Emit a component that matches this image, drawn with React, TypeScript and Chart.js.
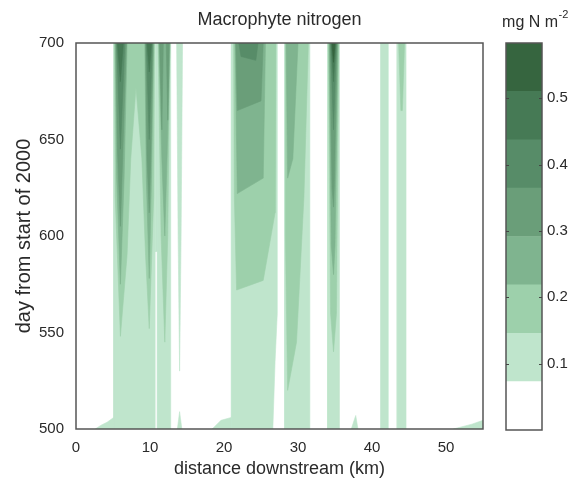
import React, { useEffect, useRef } from 'react';
import { Chart, registerables } from 'chart.js';

Chart.register(...registerables);

type Pt = [number, number];

const FONT = '"Liberation Sans", Arial, Helvetica, sans-serif';
const TEXT = '#2a2a2a';

// axes
const xTicks = [0, 10, 20, 30, 40, 50];
const yTicks = [500, 550, 600, 650, 700];
const xRange = [0, 55];
const yRange = [500, 700];

// contour levels (mg N m^-2) and fill colours (white = below first level)
const levels = [0, 0.0729, 0.1458, 0.2187, 0.2916, 0.3645, 0.4374, 0.5103, 0.5832];
const bandColors = ['#ffffff', '#bfe5cc', '#9dd0ab', '#7fb48f', '#6a9e79', '#578c68', '#467a55', '#36653f'];
const cbTicks = [0.1, 0.2, 0.3, 0.4, 0.5];

// contour regions, [distance km, day], one array per level band
const band1: Pt[][] = [
  [[2.6, 500], [5.1, 500], [5.1, 506], [4.2, 503.5], [3.4, 502]],
  [[5.1, 500], [10.7, 500], [10.7, 700], [5.1, 700]],
  [[10.7, 592], [11.0, 592], [11.0, 700], [10.7, 700]],
  [[11.0, 500], [12.8, 500], [12.8, 700], [11.0, 700]],
  [[13.6, 700], [14.4, 700], [14.2, 600], [14.0, 530], [13.8, 600]],
  [[13.7, 500], [14.3, 500], [14.0, 509]],
  [[18.4, 500], [21.0, 500], [21.0, 506], [19.6, 504.5]],
  [[21.0, 500], [26.6, 500], [26.9, 535], [27.2, 560], [27.2, 700], [21.0, 700]],
  [[28.2, 500], [31.6, 500], [31.6, 700], [28.2, 700]],
  [[34.0, 500], [35.6, 500], [35.6, 700], [34.0, 700]],
  [[37.2, 500], [38.1, 500], [37.8, 507]],
  [[41.2, 500], [42.2, 500], [42.2, 700], [41.2, 700]],
  [[43.4, 500], [44.6, 500], [44.6, 700], [43.4, 700]],
  [[51.0, 500], [55.0, 500], [55.0, 504.5], [53.5, 502.5]],
];
const band2: Pt[][] = [
  [[5.2, 700], [10.6, 700], [10.5, 620], [9.9, 552], [9.4, 590], [8.9, 640], [8.1, 677], [7.4, 640], [6.9, 590], [6.0, 548], [5.3, 620]],
  [[11.1, 700], [12.7, 700], [12.4, 600], [12.0, 545], [11.5, 600]],
  [[21.3, 700], [27.0, 700], [26.9, 612], [25.3, 577], [21.7, 572], [21.4, 620]],
  [[28.3, 700], [31.4, 700], [30.8, 620], [29.8, 545], [28.6, 520], [28.3, 600]],
  [[34.1, 700], [35.5, 700], [35.2, 560], [34.8, 540], [34.4, 560]],
  [[43.6, 700], [44.4, 700], [44.1, 665], [43.9, 665]],
];
const band3: Pt[][] = [
  [[5.3, 700], [6.9, 700], [6.5, 630], [6.0, 575], [5.5, 630]],
  [[9.3, 700], [10.5, 700], [10.2, 630], [9.9, 578], [9.5, 630]],
  [[11.2, 700], [12.7, 700], [12.3, 640], [12.0, 600], [11.6, 640]],
  [[21.5, 700], [25.6, 700], [25.3, 630], [21.8, 622]],
  [[28.4, 700], [30.0, 700], [29.3, 640], [28.6, 630]],
  [[34.2, 700], [35.4, 700], [35.0, 595], [34.8, 580], [34.5, 595]],
];
const band4: Pt[][] = [
  [[5.4, 700], [6.8, 700], [6.3, 640], [6.0, 605], [5.6, 645]],
  [[9.4, 700], [10.4, 700], [10.1, 640], [9.9, 612], [9.6, 640]],
  [[11.3, 700], [11.8, 700], [11.6, 655]],
  [[12.2, 700], [12.6, 700], [12.4, 660]],
  [[21.6, 700], [25.3, 700], [25.0, 670], [21.8, 665]],
  [[34.3, 700], [35.3, 700], [34.9, 625], [34.8, 615], [34.6, 625]],
];
const band5: Pt[][] = [
  [[5.5, 700], [6.6, 700], [6.0, 645]],
  [[9.5, 700], [10.3, 700], [9.9, 650]],
  [[22.0, 700], [24.6, 700], [24.3, 691], [22.3, 693]],
  [[34.4, 700], [35.2, 700], [34.8, 655]],
];
const band6: Pt[][] = [
  [[5.6, 700], [6.4, 700], [6.0, 680]],
  [[9.6, 700], [10.2, 700], [9.9, 685]],
  [[34.5, 700], [35.1, 700], [34.8, 680]],
];
const band7: Pt[][] = [
  [[34.6, 700], [35.0, 700], [34.8, 690]],
];

const bands = [band1, band2, band3, band4, band5, band6, band7];

const boxPlugin = {
  id: 'boxFrame',
  afterDraw(chart: any) {
    const { ctx, chartArea: a } = chart;
    ctx.save();
    ctx.strokeStyle = '#555';
    ctx.lineWidth = 1.5;
    ctx.strokeRect(a.left, a.top, a.right - a.left, a.bottom - a.top);
    ctx.restore();
  },
};

const mainTitlePlugin = {
  id: 'mainTitle',
  afterDraw(chart: any) {
    const { ctx, chartArea: a } = chart;
    ctx.save();
    ctx.fillStyle = TEXT;
    ctx.font = `18px ${FONT}`;
    ctx.textAlign = 'center';
    ctx.textBaseline = 'alphabetic';
    ctx.fillText('Macrophyte nitrogen', (a.left + a.right) / 2, 25);
    ctx.restore();
  },
};

const cbPlugin = {
  id: 'cbExtras',
  afterDraw(chart: any) {
    const { ctx, chartArea: a } = chart;
    const y = chart.scales.y;
    ctx.save();
    ctx.strokeStyle = '#555';
    ctx.lineWidth = 1.5;
    ctx.strokeRect(a.left, a.top, a.right - a.left, a.bottom - a.top);
    ctx.lineWidth = 1;
    ctx.strokeStyle = '#444';
    cbTicks.forEach((v) => {
      const py = Math.round(y.getPixelForValue(v)) + 0.5;
      ctx.beginPath();
      ctx.moveTo(a.left, py);
      ctx.lineTo(a.left + 3, py);
      ctx.moveTo(a.right, py);
      ctx.lineTo(a.right - 3, py);
      ctx.stroke();
    });
    // unit label
    ctx.fillStyle = TEXT;
    ctx.textBaseline = 'alphabetic';
    ctx.textAlign = 'left';
    ctx.font = `16px ${FONT}`;
    const main = 'mg N m';
    const wMain = ctx.measureText(main).width;
    ctx.font = `11px ${FONT}`;
    const sup = '-2';
    const wSup = ctx.measureText(sup).width;
    const cx = 55;
    const x0 = cx - (wMain + wSup) / 2;
    ctx.font = `16px ${FONT}`;
    ctx.fillText(main, x0, 27);
    ctx.font = `11px ${FONT}`;
    ctx.fillText(sup, x0 + wMain + 0.5, 18);
    ctx.restore();
  },
};

export default function App() {
  const mainRef = useRef<HTMLCanvasElement>(null);
  const cbRef = useRef<HTMLCanvasElement>(null);

  useEffect(() => {
    const datasets: any[] = [];
    bands.forEach((group, i) => {
      const b = i + 1;
      group.forEach((p) => {
        const closed = [...p, p[0]];
        datasets.push({
          data: closed.map(([x, y]) => ({ x, y })),
          showLine: true,
          fill: 'shape',
          backgroundColor: bandColors[b],
          borderColor: bandColors[b],
          borderWidth: 0.6,
          pointRadius: 0,
          pointHoverRadius: 0,
          tension: 0,
          order: 10 - b,
        });
      });
    });

    const main = new Chart(mainRef.current!, {
      type: 'scatter',
      data: { datasets },
      options: {
        animation: false,
        responsive: false,
        devicePixelRatio: 1,
        events: [],
        layout: { padding: { top: 43, right: 7, left: 0, bottom: 0 } },
        plugins: { legend: { display: false }, tooltip: { enabled: false }, title: { display: false } },
        scales: {
          x: {
            type: 'linear',
            min: xRange[0],
            max: xRange[1],
            afterBuildTicks: (s: any) => { s.ticks = xTicks.map((v) => ({ value: v })); },
            afterFit: (s: any) => { s.height = 57; },
            grid: { display: false, drawTicks: false },
            border: { display: false },
            ticks: { font: { family: FONT, size: 15 }, color: TEXT, padding: 10, maxRotation: 0 },
            title: { display: true, text: 'distance downstream (km)', font: { family: FONT, size: 18 }, color: TEXT, padding: { top: 0, bottom: 6 } },
          },
          y: {
            type: 'linear',
            min: yRange[0],
            max: yRange[1],
            afterBuildTicks: (s: any) => { s.ticks = yTicks.map((v) => ({ value: v })); },
            afterFit: (s: any) => { s.width = 76; },
            grid: { display: false, drawTicks: false },
            border: { display: false },
            ticks: { font: { family: FONT, size: 15 }, color: TEXT, padding: 12 },
            title: { display: true, text: 'day from start of 2000', font: { family: FONT, size: 20 }, color: TEXT, padding: { top: 12, bottom: 0 } },
          },
        },
      } as any,
      plugins: [boxPlugin, mainTitlePlugin],
    });

    const cbDatasets = levels.slice(0, -1).map((lo, i) => ({
      data: [[lo, levels[i + 1]]],
      backgroundColor: bandColors[i],
      borderWidth: 0,
      barPercentage: 1,
      categoryPercentage: 1,
      grouped: false,
    }));

    const cb = new Chart(cbRef.current!, {
      type: 'bar',
      data: { labels: [''], datasets: cbDatasets as any },
      options: {
        animation: false,
        responsive: false,
        devicePixelRatio: 1,
        events: [],
        layout: { padding: { top: 43, bottom: 56, left: 26, right: 0 } },
        plugins: { legend: { display: false }, tooltip: { enabled: false } },
        scales: {
          x: { display: false },
          y: {
            position: 'right',
            min: levels[0],
            max: levels[levels.length - 1],
            afterBuildTicks: (s: any) => { s.ticks = cbTicks.map((v) => ({ value: v })); },
            afterFit: (s: any) => { s.width = 38; },
            grid: { display: false, drawTicks: false },
            border: { display: false },
            ticks: { font: { family: FONT, size: 15 }, color: TEXT, padding: 5 },
          },
        },
      } as any,
      plugins: [cbPlugin],
    });

    return () => {
      main.destroy();
      cb.destroy();
    };
  }, []);

  return (
    <div style={{ position: 'absolute', left: 0, top: 0, width: 580, height: 486, background: '#fff' }}>
      <canvas ref={mainRef} width={490} height={486} style={{ position: 'absolute', left: 0, top: 0, width: 490, height: 486 }} />
      <canvas ref={cbRef} width={100} height={486} style={{ position: 'absolute', left: 480, top: 0, width: 100, height: 486 }} />
    </div>
  );
}
